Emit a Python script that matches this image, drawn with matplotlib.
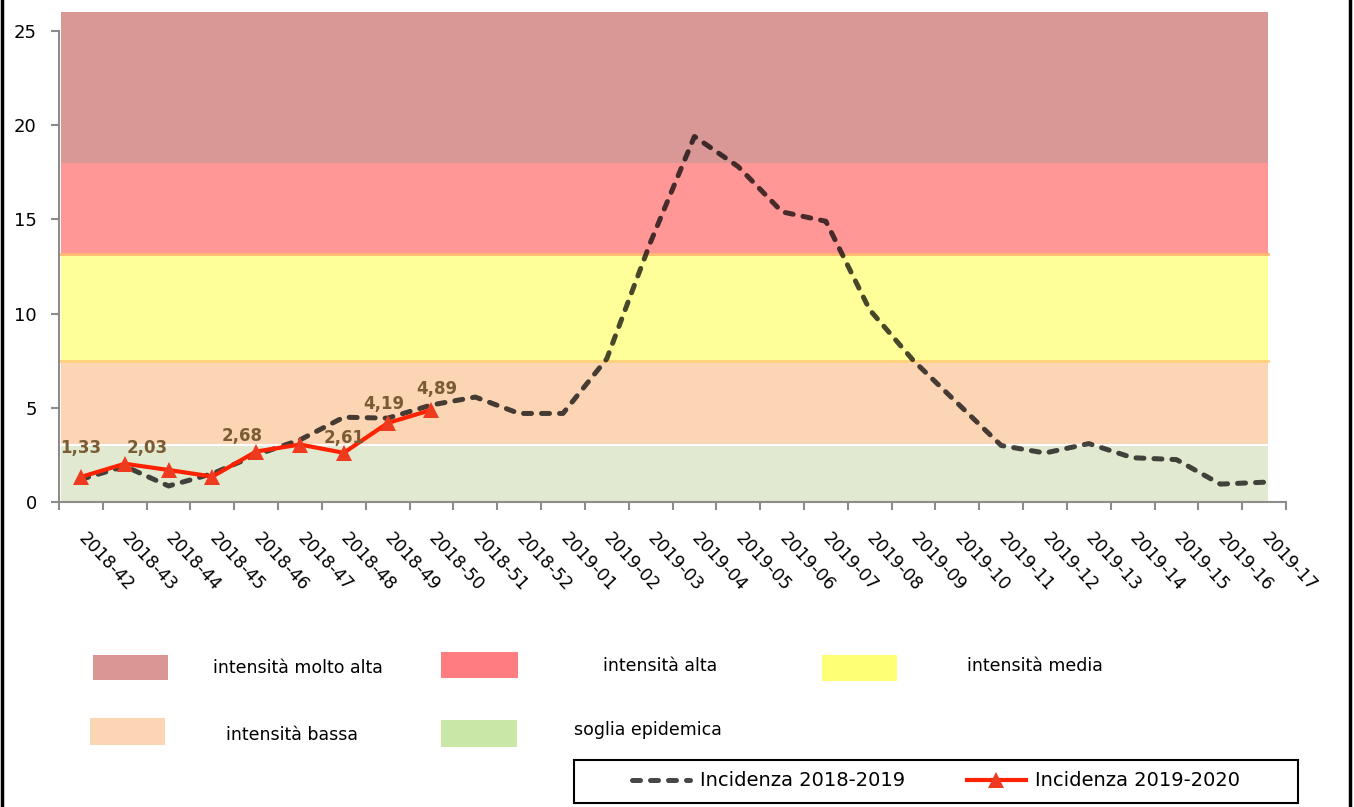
import matplotlib
matplotlib.use("Agg")
import matplotlib.pyplot as plt
from matplotlib.patches import Rectangle
from matplotlib.lines import Line2D

weeks = ["2018-42", "2018-43", "2018-44", "2018-45", "2018-46", "2018-47", "2018-48",
         "2018-49", "2018-50", "2018-51", "2018-52", "2019-01", "2019-02", "2019-03",
         "2019-04", "2019-05", "2019-06", "2019-07", "2019-08", "2019-09", "2019-10",
         "2019-11", "2019-12", "2019-13", "2019-14", "2019-15", "2019-16", "2019-17"]
inc_1819 = [1.2, 1.9, 0.85, 1.5, 2.5, 3.3, 4.5, 4.45, 5.15, 5.57, 4.7, 4.7, 7.6, 13.8,
            19.4, 17.8, 15.4, 14.9, 10.2, 7.5, 5.25, 3.0, 2.6, 3.1, 2.35, 2.25, 0.95, 1.05]
inc_1920 = [1.33, 2.03, 1.7, 1.35, 2.68, 3.05, 2.61, 4.19, 4.89]
shown_labels = [0, 1, 4, 6, 7, 8]

band_names = ["intensità molto alta", "intensità alta", "intensità media",
              "intensità bassa", "soglia epidemica"]
band_low = [18, 13.15, 7.5, 3, 0]
band_high = [26, 18, 13.15, 7.5, 3]
band_colors = ["#D99796", "#FF9797", "#FFFF99", "#FCD5B5", "#E1E9D0"]
patch_colors = ["#D99694", "#FF7C80", "#FFFF75", "#FCD5B4", "#C9E7A7"]

W, H = 1354, 807
fig = plt.figure(figsize=(W / 100, H / 100), dpi=100)
ax = fig.add_axes([59 / W, 1 - 502 / H, (1286 - 59) / W, (502 - 31) / H])

x = list(range(len(weeks)))

# background bands
for lo, hi, c in zip(band_low, band_high, band_colors):
    poly = ax.fill_between([-0.45, 27.1], lo, hi, color=c, lw=0, zorder=0)
    poly.set_clip_on(False)
ax.plot([-0.45, 27.1], [13.15, 13.15], color="#FFB870", lw=2, zorder=1)
ax.plot([-0.45, 27.1], [7.5, 7.5], color="#FFD27A", lw=2, zorder=1)
ax.plot([-0.45, 27.1], [3, 3], color="white", lw=1.5, zorder=1)

l1, = ax.plot(x, inc_1819, color="black", alpha=0.72, lw=3.6, dashes=(1.6, 2.0),
              dash_capstyle="round", zorder=3, label="Incidenza 2018-2019")
l2, = ax.plot(x[:len(inc_1920)], inc_1920, color="#FF2200", lw=3, marker="^",
              markersize=11, markeredgewidth=0, markerfacecolor="#EE3A1E",
              zorder=4, label="Incidenza 2019-2020")

offsets = [(0, 14), (16, 5), (0, 0), (0, 0), (-10, 4.5), (0, 0), (0, 4.5), (-3, 7.5), (4, 8.5)]
for i in shown_labels:
    ax.annotate(f"{inc_1920[i]:.2f}".replace(".", ","), (x[i], inc_1920[i]),
                xytext=offsets[i], textcoords="offset points", ha="center", va="bottom",
                fontsize=12, fontweight="bold", color="#7A5C34", zorder=5)

ax.set_xlim(-0.5, 27.5)
ax.set_ylim(0, 25)
ax.set_yticks([0, 5, 10, 15, 20, 25])
ax.set_xticks(x)
ax.set_xticklabels(weeks, rotation=-47, ha="left", va="center", rotation_mode="anchor")
ax.set_xticks([i - 0.5 for i in range(len(weeks) + 1)], minor=True)
ax.tick_params(axis="x", which="major", length=0, pad=24, labelsize=12.5)
ax.tick_params(axis="x", which="minor", length=6, width=1.5, color="#8C8C8C")
ax.tick_params(axis="y", length=6, width=1.5, color="#8C8C8C", pad=10, labelsize=13)
for s in ["top", "right"]:
    ax.spines[s].set_visible(False)
for s in ["left", "bottom"]:
    ax.spines[s].set_color("#8C8C8C")
    ax.spines[s].set_linewidth(1.5)
ax.set_facecolor("none")

# band legend
narrow = ["Liberation Sans Narrow", "DejaVu Sans"]
patch_boxes = [(93, 655, 168, 680), (441, 652, 518, 678), (822, 655, 897, 681),
               (90, 718, 165, 745), (441, 720, 517, 747)]
text_pos = [(213, 668), (603, 666), (967, 666), (226, 735), (574, 730)]
for name, c, (x0, y0, x1, y1), (tx, ty) in zip(band_names, patch_colors, patch_boxes, text_pos):
    fig.add_artist(Rectangle((x0 / W, 1 - y1 / H), (x1 - x0) / W, (y1 - y0) / H,
                             transform=fig.transFigure, color=c, lw=0))
    fig.text(tx / W, 1 - ty / H, name, ha="left", va="center", fontsize=12.5, family=narrow)

# line legend
fig.add_artist(Rectangle((574 / W, 1 - 803 / H), (1298 - 574) / W, (803 - 760) / H,
                         transform=fig.transFigure, fill=False, ec="black", lw=1.5))
fig.legend(handles=[l1, l2], loc="center", bbox_to_anchor=(936 / W, 1 - 781 / H),
           ncol=2, frameon=False, prop={"family": narrow, "size": 14},
           handlelength=3.0, handletextpad=0.5, columnspacing=3.2)

# outer frame
fig.add_artist(Line2D([2 / W, 2 / W], [0, 1], transform=fig.transFigure, color="black", lw=2.5))
fig.add_artist(Line2D([1350 / W, 1350 / W], [0, 1], transform=fig.transFigure, color="black", lw=2.5))

fig.savefig("out.png", dpi=100)
